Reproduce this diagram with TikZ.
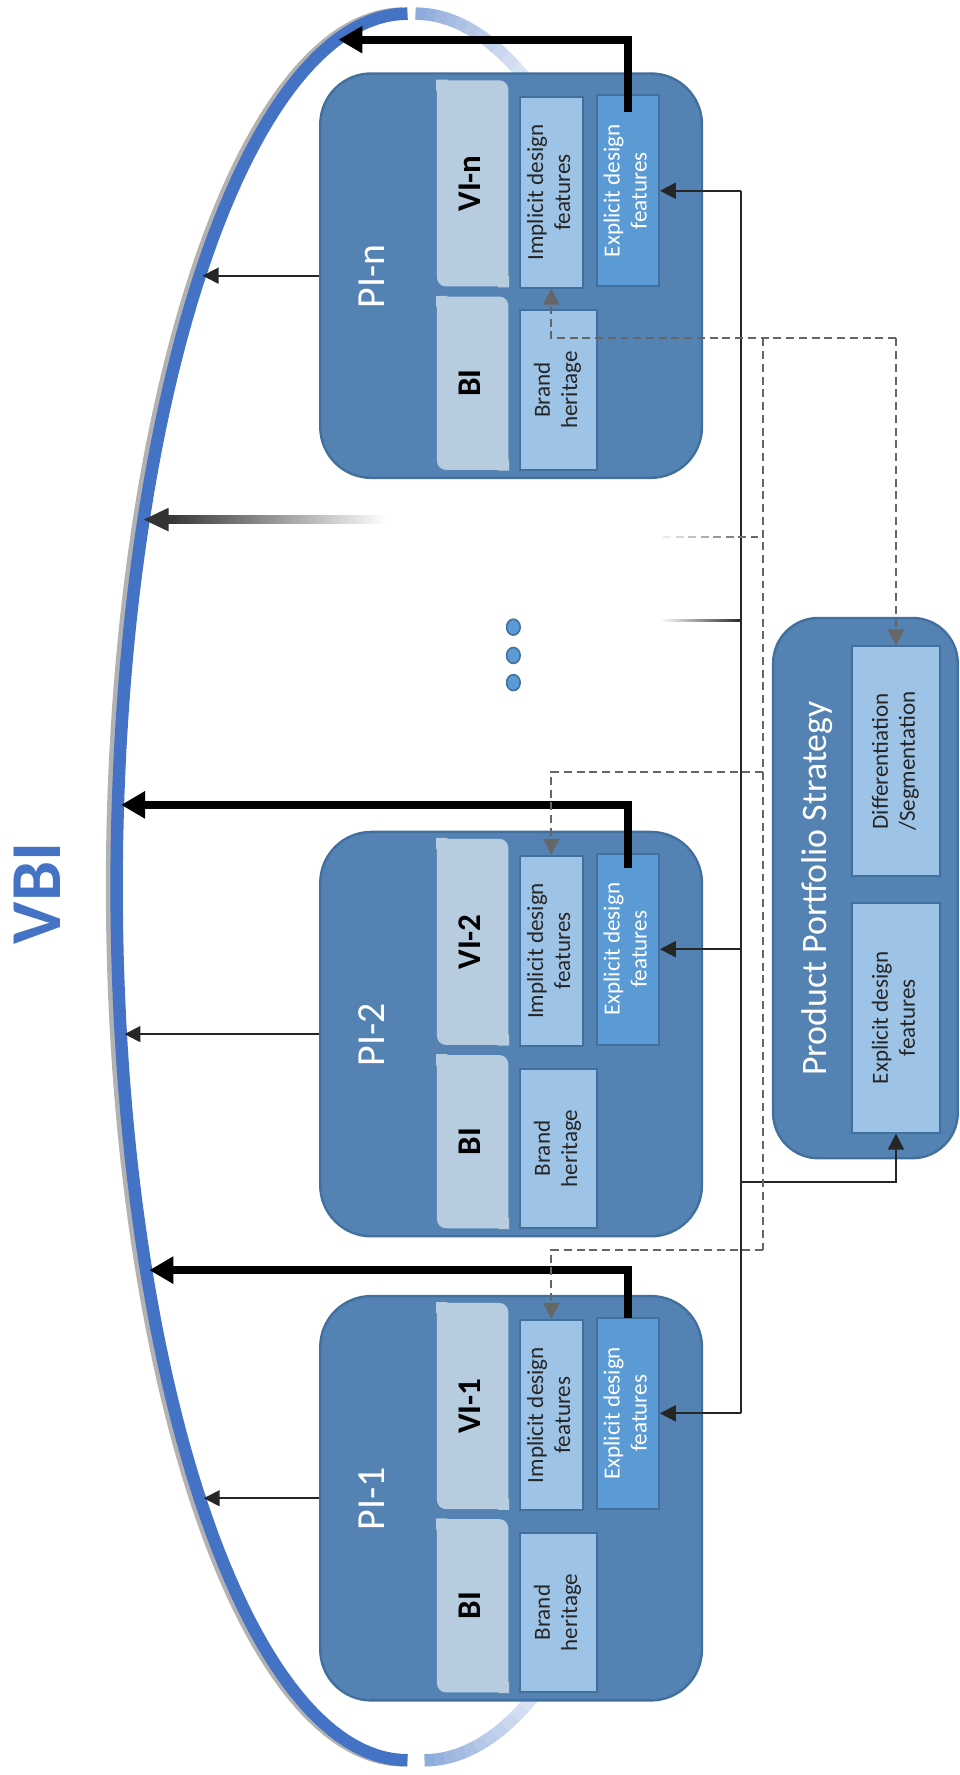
\documentclass[tikz,border=0pt]{standalone}
\usepackage{fontspec}
\setmainfont{Carlito}
\usepackage{tikz}
\usetikzlibrary{arrows.meta}
\usepackage{xcolor}
\definecolor{pifill}{RGB}{83,130,179}
\definecolor{piline}{RGB}{66,112,158}
\definecolor{vifill}{RGB}{184,204,224}
\definecolor{ltfill}{RGB}{157,195,230}
\definecolor{exfill}{RGB}{91,155,213}
\definecolor{arcblue}{RGB}{68,114,196}
\newcommand{\vtxt}[1]{\rotatebox{90}{\begin{tabular}{@{}c@{}}#1\end{tabular}}}

\begin{document}
\begin{tikzpicture}[x=0.01cm,y=-0.01cm,>={Triangle[length=4pt,width=4pt]},
  pibox/.style={draw=piline,fill=pifill,line width=0.6pt,rounded corners=0.45cm,inner sep=0,minimum width=3.37cm,minimum height=3.57cm},
  pilabel/.style={text=white,font=\fontsize{10}{12}\selectfont},
  vibox/.style={fill=vifill,rounded corners=0.08cm,inner sep=0,minimum width=0.63cm,font=\fontsize{8.3}{10}\selectfont\bfseries},
  subbox/.style={draw=piline,line width=0.5pt,inner sep=0,font=\fontsize{5.8}{6.8}\selectfont},
  impbox/.style={subbox,fill=ltfill,text=black!85,minimum width=0.56cm,minimum height=1.68cm},
  expbox/.style={subbox,fill=exfill,text=white,minimum width=0.55cm,minimum height=1.69cm},
  brandbox/.style={subbox,fill=ltfill,text=black!85,minimum width=0.68cm,minimum height=1.41cm},
  ppsbox/.style={subbox,fill=ltfill,text=black!85,minimum width=0.77cm,minimum height=2.03cm},
  thk/.style={line width=0.07cm,-{Triangle[length=6pt,width=6.5pt]}},
  thn/.style={line width=0.5pt,black!85},
  dsh/.style={line width=0.5pt,black!60,dash pattern=on 2pt off 1.2pt}]
\useasboundingbox (0,0) rectangle (848,1568);

% VBI arc
\draw[black!30,line width=0.11cm] plot[domain=-90:90,samples=121] ({356-257*cos(\x)},{783.5+771.5*sin(\x)});
\draw[arcblue,line width=0.11cm] plot[domain=-90:90,samples=121] ({360-257*cos(\x)},{783.5+771.5*sin(\x)});
\foreach \a [evaluate=\a as \p using int(60-2*(\a+90))] in {-90,-88,...,-62}
  \draw[arcblue!\p!white,line width=0.11cm] plot[domain=\a:\a+2.2,samples=3] ({367+257*cos(\x)},{783.5+771.5*sin(\x)});
\foreach \a [evaluate=\a as \p using int(60-2*(88-\a))] in {88,86,...,60}
  \draw[arcblue!\p!white,line width=0.11cm] plot[domain=\a-0.2:\a+2,samples=3] ({375+257*cos(\x)},{783.5+771.5*sin(\x)});
\node[text=arcblue,font=\fontsize{18}{20}\selectfont\bfseries] (vbi) at (33,789) {\rotatebox{90}{VBI}};

% PI-n
\node[pibox] (pin) at (451.5,243.5) {};
\node[pilabel] (labn) at (331,244) {\vtxt{PI-n}};
\node[vibox,minimum height=1.82cm] (vin) at (417.5,162) {};
\fill[vifill] (vin.north west) rectangle ++(10,10) (vin.south east) rectangle ++(-10,-10);
\node at (vin) {\bfseries\fontsize{8.3}{10}\selectfont\vtxt{VI-n}};
\node[vibox,minimum height=1.53cm] (bin) at (417.5,338.5) {};
\fill[vifill] (bin.north west) rectangle ++(10,10) (bin.south east) rectangle ++(-10,-10);
\node at (bin) {\bfseries\fontsize{8.3}{10}\selectfont\vtxt{BI}};
\node[impbox] (impn) at (487,170) {\vtxt{Implicit design\\features}};
\node[expbox] (expn) at (554.5,168.5) {\vtxt{Explicit design\\features}};
\node[brandbox] (brn) at (493,344.5) {\vtxt{Brand\\heritage}};

% PI-2
\node[pibox] (pi2) at (451.5,913.5) {};
\node[pilabel] (lab2) at (331,914) {\vtxt{PI-2}};
\node[vibox,minimum height=1.82cm] (vi2) at (417.5,832) {};
\fill[vifill] (vi2.north west) rectangle ++(10,10) (vi2.south east) rectangle ++(-10,-10);
\node at (vi2) {\bfseries\fontsize{8.3}{10}\selectfont\vtxt{VI-2}};
\node[vibox,minimum height=1.53cm] (bi2) at (417.5,1008.5) {};
\fill[vifill] (bi2.north west) rectangle ++(10,10) (bi2.south east) rectangle ++(-10,-10);
\node at (bi2) {\bfseries\fontsize{8.3}{10}\selectfont\vtxt{BI}};
\node[impbox] (imp2) at (487,840) {\vtxt{Implicit design\\features}};
\node[expbox] (exp2) at (554.5,838.5) {\vtxt{Explicit design\\features}};
\node[brandbox] (br2) at (493,1014.5) {\vtxt{Brand\\heritage}};

% PI-1
\node[pibox] (pi1) at (451.5,1323.5) {};
\node[pilabel] (lab1) at (331,1324) {\vtxt{PI-1}};
\node[vibox,minimum height=1.82cm] (vi1) at (417.5,1242) {};
\fill[vifill] (vi1.north west) rectangle ++(10,10) (vi1.south east) rectangle ++(-10,-10);
\node at (vi1) {\bfseries\fontsize{8.3}{10}\selectfont\vtxt{VI-1}};
\node[vibox,minimum height=1.53cm] (bi1) at (417.5,1418.5) {};
\fill[vifill] (bi1.north west) rectangle ++(10,10) (bi1.south east) rectangle ++(-10,-10);
\node at (bi1) {\bfseries\fontsize{8.3}{10}\selectfont\vtxt{BI}};
\node[impbox] (imp1) at (487,1250) {\vtxt{Implicit design\\features}};
\node[expbox] (exp1) at (554.5,1248.5) {\vtxt{Explicit design\\features}};
\node[brandbox] (br1) at (493,1424.5) {\vtxt{Brand\\heritage}};

% product portfolio strategy
\node[pibox,minimum width=1.63cm,minimum height=4.77cm,rounded corners=0.4cm] (pps) at (764.5,784.5) {};
\node[pilabel,font=\fontsize{9}{11}\selectfont] (ppst) at (722,785) {\vtxt{Product Portfolio Strategy}};
\node[ppsbox] (ppsd) at (791.5,672.5) {\vtxt{Differentiation\\/Segmentation}};
\node[ppsbox] (ppse) at (791.5,899) {\vtxt{Explicit design\\features}};

% dots
\foreach \y in {554,579,603}
  \draw[fill=exfill,draw=piline,line width=0.4pt] (453.5,\y) ellipse [x radius=0.06cm,y radius=0.07cm];

% points on the arc
\coordinate (vn) at (179,243.5);
\coordinate (v2) at (110,913.5);
\coordinate (v1) at (180,1323.5);
\coordinate (tn) at (299,35);
\coordinate (t2) at (107,711);
\coordinate (t1) at (132,1122);

\draw[thn,->] (pin.west) -- (vn);
\draw[thn,->] (pi2.west) -- (v2);
\draw[thn,->] (pi1.west) -- (v1);
\draw[thk] ([yshift=-0.16cm]expn.north) |- (tn);
\draw[thk] ([yshift=-0.14cm]exp2.north) |- (t2);
\draw[thk] ([yshift=-0.01cm]exp1.north) |- (t1);

% faded arrow for the elided PI
\shade[left color=black!80,right color=white] (147,455.5) rectangle (341,462.5);
\fill[black!80] (127,459) -- (149,448.5) -- (149,469.5) -- cycle;

% explicit features bus
\coordinate (bus) at (655,0);
\coordinate (bj) at (655,1044);
\draw[thn] (expn.east -| bus) -- (exp1.east -| bus);
\draw[thn,->] (expn.east -| bus) -- (expn.east);
\draw[thn,->] (exp2.east -| bus) -- (exp2.east);
\draw[thn,->] (exp1.east -| bus) -- (exp1.east);
\draw[thn,->] (bj) -| (ppse.south);
\shade[left color=white,right color=black!85] (583,547.3) rectangle (655,548.7);

% differentiation links
\coordinate (dj) at (791.5,299);
\coordinate (dt) at (674,299);
\coordinate (d2) at (674,682);
\coordinate (db) at (674,1104);
\draw[dsh,->] (dj) -| (impn.south);
\draw[dsh,->] (dj) -- (ppsd.north);
\draw[dsh] (dt) -- (db);
\draw[dsh,->] (d2) -| (imp2.north);
\draw[dsh,->] (db) -| (imp1.north);
\foreach \x/\c in {586/8,597/16,608/24,619/32,630/40,641/48,652/56,663/60}
  \draw[black!\c,line width=0.5pt] (\x,474) -- (\x+7,474);
\end{tikzpicture}
\end{document}
